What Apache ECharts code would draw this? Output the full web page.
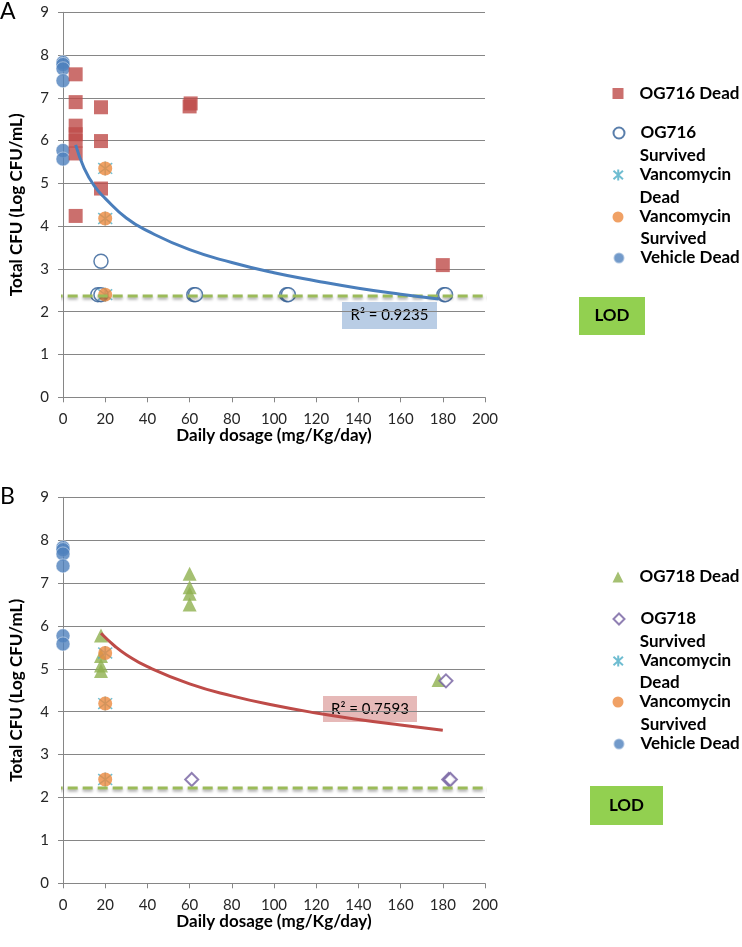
<!DOCTYPE html>
<html><head><meta charset="utf-8">
<script src="https://cdn.jsdelivr.net/npm/echarts@6/dist/echarts.min.js"></script>
<style>html,body{margin:0;padding:0;background:#fff}#c{width:742px;height:947px}</style>
</head><body><div id="c"></div>
<script>
// ---------- data ----------
const xTickLabels = ['0','20','40','60','80','100','120','140','160','180','200'];
const yTickLabels = ['0','1','2','3','4','5','6','7','8','9'];
const xTitle = 'Daily dosage (mg/Kg/day)';
const yTitle = 'Total CFU (Log CFU/mL)';

// Panel A
const vehicleDeadA = [[0,7.83],[0,7.78],[0,7.68],[0,7.40],[0,5.77],[0,5.57]];
const og716Dead = [[6,7.55],[6,6.90],[6,6.35],[6,6.15],[6,6.00],[6,5.70],[6,4.24],
                   [18,6.78],[18,5.99],[18,4.88],[60,6.80],[60.5,6.87],[180,3.09]];
const og716Survived = [[16.5,2.40],[18,2.40],[18,3.18],[62,2.40],[62.8,2.40],
                       [106,2.40],[106.8,2.40],[180.5,2.40],[181.3,2.40]];
const vancoSurvivedA = [[20,5.35],[20,4.18],[20,2.40]];
const vancoDeadA = [[20,5.35],[20,4.18],[20,2.40]];
const trendA = [[6,5.90],[10,5.36],[15,4.93],[20,4.65],[30,4.19],[40,3.89],[60,3.45],
                [80,3.15],[100,2.91],[120,2.72],[140,2.55],[160,2.41],[178,2.30]];
const r2A = 'R² = 0.9235';
const lodA = [[-12,2.37],[243,2.37]];

// Panel B
const vehicleDeadB = [[0,7.83],[0,7.78],[0,7.68],[0,7.40],[0,5.77],[0,5.58]];
const og718Dead = [[18,5.78],[18,5.30],[18,5.08],[18,4.95],
                   [60,7.22],[60,6.90],[60,6.75],[60,6.50],[178,4.74]];
const og718Survived = [[61,2.42],[181.5,4.72],[182.8,2.42],[183.6,2.42]];
const vancoSurvivedB = [[20,5.37],[20,4.19],[20,2.42]];
const vancoDeadB = [[20,5.37],[20,4.19],[20,2.42]];
const trendB = [[18,5.83],[25,5.51],[30,5.33],[40,5.05],[60,4.65],[80,4.37],[100,4.15],
                [120,3.97],[140,3.82],[160,3.69],[180,3.57]];
const r2B = 'R² = 0.7593';
const lodB = [[-12,2.22],[243,2.22]];
const lodText = 'LOD';

const legendA = ['OG716 Dead','OG716','Survived Vancomycin','Dead Vancomycin','Survived Vehicle Dead'];
const legendB = ['OG718 Dead','OG718','Survived Vancomycin','Dead Vancomycin','Survived Vehicle Dead'];
const legendLines = {
  'OG716 Dead':['OG716 Dead'],'OG718 Dead':['OG718 Dead'],'OG716':['OG716'],'OG718':['OG718'],
  'Survived Vancomycin':['Survived','Vancomycin',' '],'Dead Vancomycin':['Dead','Vancomycin',' '],
  'Survived Vehicle Dead':['Survived','Vehicle Dead',' ']
};

// ---------- styling ----------
const FONT = 'Lato, "Open Sans", sans-serif';
const GRAY = '#868686';
const ASTERISK = 'path://M5,0L5,10M0.7,1.2L9.3,8.8M0.7,8.8L9.3,1.2';
const gridsPx = [{left:62, top:12.3, width:423, height:385},{left:62, top:497.3, width:423, height:386}];

function xAxisFor(i){
  return {gridIndex:i, type:'value', min:0, max:200, interval:20,
    axisLine:{show:true, onZero:false, lineStyle:{color:GRAY,width:1}},
    axisTick:{show:true, length:5, lineStyle:{color:GRAY}},
    splitLine:{show:false},
    axisLabel:{margin:14, color:'#262626', fontSize:15, fontFamily:FONT,
      formatter:(v)=>xTickLabels[Math.round(v/20)]},
    name:xTitle, nameLocation:'middle', nameGap:28,
    nameTextStyle:{fontFamily:FONT, fontWeight:'bold', fontSize:17, color:'#000'}};
}
function yAxisFor(i){
  return {gridIndex:i, type:'value', min:0, max:9, interval:1,
    axisLine:{show:true, lineStyle:{color:GRAY,width:1}},
    axisTick:{show:true, length:5, lineStyle:{color:GRAY}},
    splitLine:{show:true, lineStyle:{color:GRAY,width:1}},
    axisLabel:{margin:14, color:'#262626', fontSize:15, fontFamily:FONT,
      formatter:(v)=>yTickLabels[Math.round(v)]},
    name:yTitle, nameLocation:'middle', nameGap:38,
    nameTextStyle:{fontFamily:FONT, fontWeight:'bold', fontSize:17, color:'#000'}};
}

function panelSeries(i, d){
  const ax = {xAxisIndex:i, yAxisIndex:i};
  return [
    Object.assign({name:'Survived Vehicle Dead', type:'scatter', data:d.vehicle, symbol:'circle', symbolSize:14, z:3,
      itemStyle:{color:'#4f81bd', borderColor:'rgba(255,255,255,0.55)', borderWidth:1}}, ax),
    Object.assign({name:d.deadName, type:'scatter', data:d.dead, symbol:d.deadSymbol, symbolSize:d.deadSize, z:3,
      itemStyle:{color:d.deadColor}}, ax),
    Object.assign({name:d.survName, type:'scatter', data:d.surv, symbol:d.survSymbol, symbolSize:d.survSize, z:3,
      itemStyle:{color:'#ffffff', borderColor:d.survColor, borderWidth:d.survBorder}}, ax),
    Object.assign({name:'Survived Vancomycin', type:'scatter', data:d.vancoSurv, symbol:ASTERISK, symbolSize:14, z:3,
      itemStyle:{color:'transparent', borderColor:'#4bacc6', borderWidth:1.5}}, ax),
    Object.assign({name:'Dead Vancomycin', type:'scatter', data:d.vancoDead, symbol:'circle', symbolSize:14, z:4,
      itemStyle:{color:'#ec8a3f'}}, ax),
    Object.assign({name:'LOD', type:'line', data:d.lod, clip:false, symbol:'none', silent:true, z:5,
      lineStyle:{color:'#9bbb59', width:3, type:[10,5], shadowColor:'rgba(0,0,0,0.35)', shadowBlur:3, shadowOffsetY:2}}, ax),
    Object.assign({name:'Trend', type:'line', data:d.trend, smooth:true, symbol:'none', silent:true, z:6,
      lineStyle:{color:d.trendColor, width:3}}, ax)
  ];
}

const series = [].concat(
  panelSeries(0, {vehicle:vehicleDeadA, deadName:'OG716 Dead', dead:og716Dead, deadSymbol:'rect', deadSize:14, deadColor:'#be4b48',
    survName:'OG716', surv:og716Survived, survSymbol:'circle', survSize:14, survColor:'#2f5e96', survBorder:1.5,
    vancoSurv:vancoSurvivedA, vancoDead:vancoDeadA, lod:lodA, trend:trendA, trendColor:'#4a7ebb'}),
  panelSeries(1, {vehicle:vehicleDeadB, deadName:'OG718 Dead', dead:og718Dead, deadSymbol:'triangle', deadSize:14, deadColor:'#8fb04f',
    survName:'OG718', surv:og718Survived, survSymbol:'diamond', survSize:13, survColor:'#7460a0', survBorder:2,
    vancoSurv:vancoSurvivedB, vancoDead:vancoDeadB, lod:lodB, trend:trendB, trendColor:'#be4b48'})
);

const legendTopsA = [84, 123.5, 146.5, 188.5, 229.5];
const legendTopsB = [567.5, 609.5, 632.5, 673.5, 715.5];
const legends = [];
function addLegends(names, tops){
  names.forEach((n, k) => legends.push({
    data:[n], left:612.5, top:tops[k], orient:'vertical', padding:0, itemGap:0,
    itemWidth:11, itemHeight:11, selectedMode:false,
    formatter:(name)=>legendLines[name].join('\n'),
    textStyle:{fontFamily:FONT, fontWeight:'bold', fontSize:17, lineHeight:19, color:'#000',
      padding:[0,0,0,11]}
  }));
}
addLegends(legendA, legendTopsA);
addLegends(legendB, legendTopsB);

function box(x, y, w, h, fill, text, bold, size){
  return {type:'group', x:x, y:y, children:[
    {type:'rect', shape:{x:0,y:0,width:w,height:h}, style:{fill:fill}},
    {type:'text', x:w/2, y:h/2, style:{text:text, fill:'#000', align:'center', verticalAlign:'middle',
      font:(bold?'bold ':'')+size+'px '+FONT}}
  ]};
}

const option = {
  backgroundColor:'#fff',
  animation:false,
  title:[
    {text:'A', left:0, top:0, padding:0, textStyle:{fontFamily:FONT, fontWeight:'normal', fontSize:23, color:'#000'}},
    {text:'B', left:0, top:485, padding:0, textStyle:{fontFamily:FONT, fontWeight:'normal', fontSize:23, color:'#000'}}
  ],
  grid:gridsPx,
  xAxis:[xAxisFor(0), xAxisFor(1)],
  yAxis:[yAxisFor(0), yAxisFor(1)],
  legend:legends,
  series:series,
  graphic:[
    box(342, 302, 95, 27, '#b9cde5', r2A, false, 15),
    box(323, 696, 94, 26, '#e6b9b8', r2B, false, 15),
    box(579, 297, 66, 38, '#92d050', lodText, true, 17),
    box(590, 786, 73, 39, '#92d050', lodText, true, 17)
  ]
};
const chart = echarts.init(document.getElementById('c'));
chart.setOption(option);
</script></body></html>
